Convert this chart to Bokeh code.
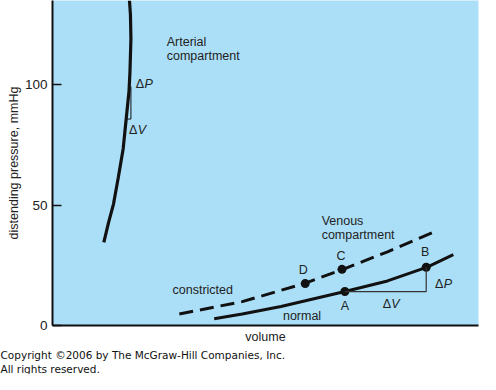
from bokeh.plotting import figure
from bokeh.models import Range1d, FixedTicker, Label, Title
from bokeh.embed import file_html
from bokeh.resources import INLINE

# ---- data (volume in arbitrary units, pressure in mmHg) ----
arterial_v = [53, 58, 63, 68, 73, 76, 79, 80, 81, 80.5, 79.5]
arterial_p = [34.5, 42.9, 50.4, 61.5, 73.4, 85.3, 97.2, 105.2, 119.0, 129.0, 134.9]

normal_v = [167, 196, 236, 302, 346, 387, 414]
normal_p = [2.8, 4.8, 7.9, 14.1, 18.5, 24.2, 29.4]

constricted_v = [131, 196, 259, 300, 346, 392]
constricted_p = [4.8, 9.9, 17.3, 23.3, 30.6, 38.5]

point_names = ["A", "B", "C", "D"]
point_v = [302, 386, 299, 261]
point_p = [14.1, 24.2, 23.3, 17.4]

y_ticks = [0, 50, 100]

FONT = "Liberation Sans"
TXT = "#222222"
BG = "#ABDFF8"
FS = "12.5px"

p = figure(width=480, height=374, output_backend="svg", toolbar_location=None,
           x_range=Range1d(0, 440), y_range=Range1d(0, 134.9),
           min_border_left=52, min_border_right=2, min_border_top=0,
           min_border_bottom=48)
p.background_fill_color = BG
p.border_fill_color = "white"
p.outline_line_color = None
p.grid.visible = False

# axes
p.yaxis.ticker = FixedTicker(ticks=y_ticks)
p.yaxis.minor_tick_line_color = None
p.yaxis.major_tick_in = 9
p.yaxis.major_tick_out = 0
p.yaxis.major_tick_line_width = 1.3
p.yaxis.axis_line_width = 2
p.yaxis.axis_line_color = "#111111"
p.yaxis.major_tick_line_color = "#111111"
p.yaxis.major_label_standoff = 5
p.yaxis.major_label_text_font = FONT
p.yaxis.major_label_text_font_size = "13.5px"
p.yaxis.major_label_text_color = TXT
p.yaxis.axis_label = "distending pressure, mmHg"
p.yaxis.axis_label_text_font = FONT
p.yaxis.axis_label_text_font_size = FS
p.yaxis.axis_label_text_font_style = "normal"
p.yaxis.axis_label_text_color = TXT
p.yaxis.axis_label_standoff = 1

p.xaxis.ticker = FixedTicker(ticks=[])
p.xaxis.minor_tick_line_color = None
p.xaxis.major_tick_out = 0
p.xaxis.major_tick_in = 0
p.xaxis.axis_line_width = 2
p.xaxis.axis_line_color = "#111111"
p.xaxis.axis_label = "volume"
p.xaxis.axis_label_text_font = FONT
p.xaxis.axis_label_text_font_size = FS
p.xaxis.axis_label_text_font_style = "normal"
p.xaxis.axis_label_text_color = TXT
p.xaxis.axis_label_standoff = 4

# curves
p.line(arterial_v, arterial_p, line_width=3.2, line_color="#111111")
p.line(normal_v, normal_p, line_width=3, line_color="#111111")
p.line(constricted_v, constricted_p, line_width=3, line_color="#111111",
       line_dash="14 7")
p.scatter(point_v, point_p, size=9, marker="circle", fill_color="#111111",
          line_color=None)

# delta brackets
ax = arterial_v[8]
p.line([ax, ax, ax - 5], [99.2, 85.7, 85.7], line_width=1, line_color="#111111")
A_v, B_v = point_v[0], point_v[1]
A_p, B_p = point_p[0], point_p[1]
p.line([A_v, B_v, B_v], [A_p, A_p, B_p], line_width=1.2, line_color="#333333")


def lab(x, y, t, size=FS, style="normal", align="left", font=FONT):
    p.add_layout(Label(x=x, y=y, text=t, text_font=font, text_font_size=size,
                       text_font_style=style, text_color=TXT, text_align=align,
                       text_baseline="middle"))


def delta(x, y, letter):
    lab(x, y, "Δ")
    lab(x + 9, y, letter, style="italic")


lab(118, 117.5, "Arterial")
lab(118, 111.9, "compartment")
lab(278, 43.3, "Venous")
lab(278, 37.7, "compartment")
lab(124, 14.7, "constricted")
lab(238, 4.0, "normal")
lab(point_v[0], 7.9, "A", align="center")
lab(point_v[1] - 1, 30.6, "B", align="center")
lab(point_v[2] - 1, 29.0, "C", align="center")
lab(point_v[3] - 2, 23.0, "D", align="center")
delta(86, 100.4, "P")
delta(79, 81.0, "V")
delta(395, 17.1, "P")
delta(341, 9.1, "V")

# copyright
for line in ["Copyright ©2006 by The McGraw-Hill Companies, Inc.", "All rights reserved."]:
    t = Title(text=line, align="left", text_font="DejaVu Sans", text_font_size="10.5px",
              text_font_style="normal", text_color="#111111", offset=-52,
              standoff=0)
    p.add_layout(t, "below")

open("out.html", "w").write(file_html(p, INLINE))
